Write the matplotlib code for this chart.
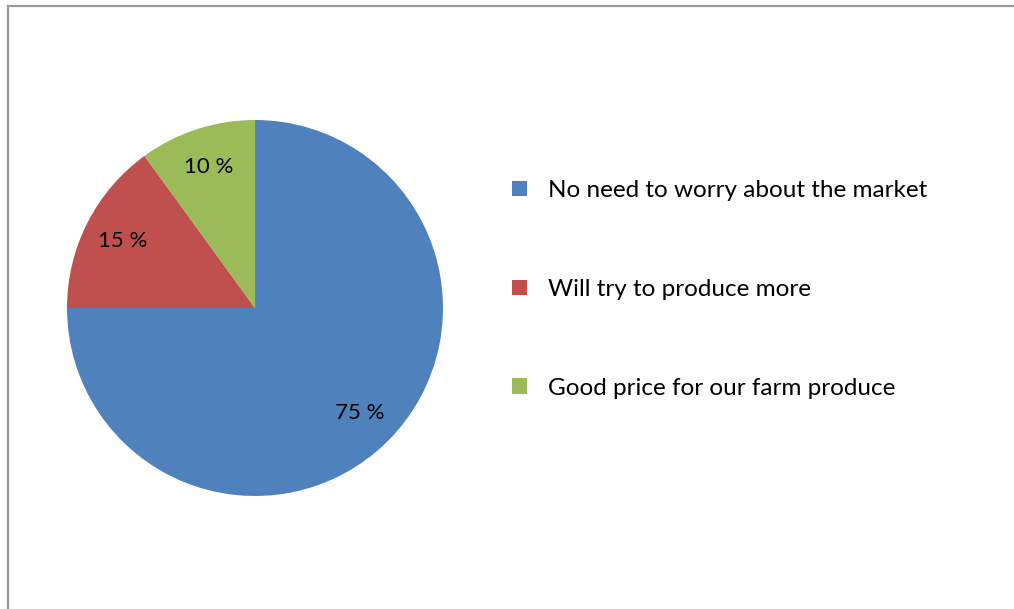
import matplotlib
matplotlib.use('Agg')
import matplotlib.pyplot as plt
from matplotlib.lines import Line2D

labels = ['No need to worry about the market',
          'Will try to produce more',
          'Good price for our farm produce']
shares = [75, 15, 10]
colors = ['#4F81BD', '#C0504D', '#9BBB59']

plt.rcParams['font.family'] = ['Lato', 'DejaVu Sans']

fig = plt.figure(figsize=(10.14, 6.09), dpi=100)

# pie sits in a square axes on the left
ax = fig.add_axes([67 / 1014, 113 / 609, 376 / 1014, 376 / 609])
wedges, texts, autotexts = ax.pie(
    shares, colors=colors, startangle=90, counterclock=False,
    autopct=lambda p: '%d %%' % round(p), pctdistance=0.79,
    textprops={'fontsize': 16, 'color': 'black'})
ax.set_xlim(-1, 1)
ax.set_ylim(-1, 1)
ax.set_aspect('equal')

leg = fig.legend(wedges, labels, loc='upper left',
                 bbox_to_anchor=(500 / 1014, 1 - 168 / 609),
                 frameon=False, fontsize=17.5, handlelength=0.62,
                 handleheight=0.62, handletextpad=0.86, labelspacing=3.2,
                 borderpad=0)

# chart area frame (top and left edges visible)
frame = dict(color='#9a9a9a', linewidth=1.6, transform=fig.transFigure)
fig.add_artist(Line2D([7.5 / 1014, 1.0], [1 - 5.5 / 609, 1 - 5.5 / 609], **frame))
fig.add_artist(Line2D([7.5 / 1014, 7.5 / 1014], [0, 1 - 5.5 / 609], **frame))

fig.savefig('out.png', dpi=100)
